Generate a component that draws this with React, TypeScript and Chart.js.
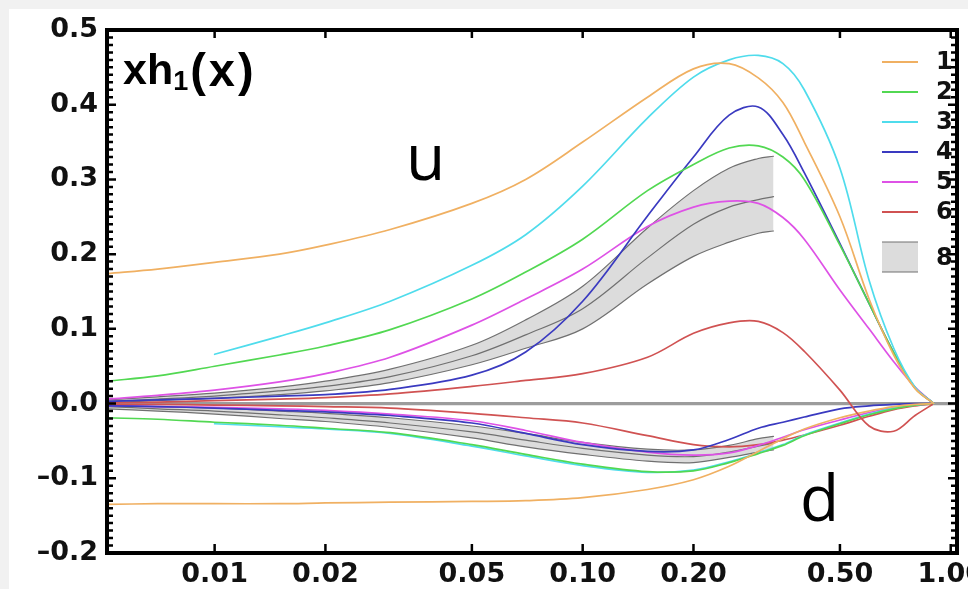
import React, { useEffect, useRef } from "react";
import { Chart, registerables } from "chart.js";
Chart.register(...registerables);

const X_MIN = 0.0051;
const X_MAX = 1.04;

const X_GRID = [0.0051, 0.007, 0.01, 0.015, 0.02, 0.03, 0.05, 0.07, 0.1, 0.15, 0.2, 0.25, 0.3, 0.35, 0.4, 0.5, 0.6, 0.7, 0.8, 0.9];
const X_CYAN = [0.01, 0.015, 0.02, 0.03, 0.05, 0.07, 0.1, 0.15, 0.2, 0.25, 0.3, 0.35, 0.4, 0.5, 0.6, 0.7, 0.8, 0.9];
const X_BAND = [0.0051, 0.007, 0.01, 0.015, 0.02, 0.03, 0.05, 0.07, 0.1, 0.15, 0.2, 0.25, 0.3, 0.33];

// u-quark curves (positive)
const U1 = [0.174, 0.180, 0.189, 0.200, 0.212, 0.233, 0.268, 0.300, 0.350, 0.410, 0.448, 0.455, 0.436, 0.403, 0.350, 0.250, 0.140, 0.065, 0.020, 0];
const U2 = [0.030, 0.037, 0.050, 0.065, 0.077, 0.099, 0.140, 0.176, 0.220, 0.285, 0.320, 0.342, 0.345, 0.330, 0.300, 0.212, 0.134, 0.068, 0.021, 0];
const U3 = [0.066, 0.090, 0.108, 0.137, 0.185, 0.226, 0.291, 0.382, 0.437, 0.460, 0.466, 0.455, 0.420, 0.315, 0.165, 0.074, 0.022, 0];
const U4 = [0.003, 0.005, 0.007, 0.010, 0.012, 0.019, 0.038, 0.069, 0.137, 0.251, 0.330, 0.386, 0.397, 0.360, 0.309, 0.214, 0.134, 0.068, 0.021, 0];
const U5 = [0.006, 0.011, 0.018, 0.029, 0.040, 0.062, 0.105, 0.140, 0.180, 0.237, 0.263, 0.271, 0.268, 0.249, 0.220, 0.152, 0.100, 0.056, 0.022, 0];
const U6 = [0.001, 0.002, 0.004, 0.006, 0.008, 0.013, 0.023, 0.031, 0.040, 0.062, 0.094, 0.108, 0.110, 0.095, 0.070, 0.018, -0.030, -0.037, -0.016, 0];
const U8_UP = [0.005, 0.009, 0.014, 0.022, 0.030, 0.046, 0.078, 0.112, 0.157, 0.235, 0.285, 0.315, 0.328, 0.331];
const U8_MID = [0.003, 0.006, 0.010, 0.017, 0.023, 0.036, 0.064, 0.092, 0.127, 0.195, 0.240, 0.263, 0.273, 0.277];
const U8_LOW = [0.001, 0.004, 0.007, 0.012, 0.017, 0.028, 0.052, 0.074, 0.100, 0.160, 0.197, 0.216, 0.228, 0.231];

// d-quark curves (negative)
const D1 = [-0.135, -0.134, -0.134, -0.134, -0.133, -0.132, -0.131, -0.130, -0.126, -0.115, -0.102, -0.084, -0.064, -0.047, -0.034, -0.019, -0.010, -0.004, -0.001, 0];
const D2 = [-0.019, -0.021, -0.025, -0.029, -0.033, -0.039, -0.055, -0.068, -0.081, -0.091, -0.090, -0.079, -0.067, -0.056, -0.043, -0.027, -0.015, -0.007, -0.002, 0];
const D3 = [-0.027, -0.031, -0.034, -0.040, -0.057, -0.070, -0.083, -0.092, -0.089, -0.078, -0.066, -0.055, -0.042, -0.026, -0.014, -0.006, -0.002, 0];
const D4 = [-0.003, -0.004, -0.006, -0.009, -0.011, -0.016, -0.026, -0.040, -0.055, -0.064, -0.062, -0.048, -0.033, -0.025, -0.018, -0.007, -0.003, -0.001, 0, 0];
const D5 = [-0.003, -0.004, -0.005, -0.007, -0.009, -0.014, -0.023, -0.036, -0.052, -0.065, -0.069, -0.066, -0.056, -0.045, -0.035, -0.022, -0.012, -0.005, -0.001, 0];
const D6 = [-0.001, -0.001, -0.002, -0.003, -0.004, -0.006, -0.013, -0.019, -0.026, -0.043, -0.055, -0.058, -0.055, -0.049, -0.042, -0.029, -0.017, -0.008, -0.003, 0];
const D8_UP = [-0.002, -0.004, -0.006, -0.010, -0.013, -0.019, -0.030, -0.040, -0.052, -0.061, -0.062, -0.056, -0.047, -0.044];
const D8_MID = [-0.004, -0.007, -0.010, -0.015, -0.019, -0.026, -0.038, -0.049, -0.060, -0.069, -0.071, -0.065, -0.057, -0.053];
const D8_LOW = [-0.007, -0.010, -0.014, -0.020, -0.024, -0.032, -0.046, -0.058, -0.068, -0.077, -0.079, -0.072, -0.065, -0.062];

const X_TICKS = [0.01, 0.02, 0.05, 0.1, 0.2, 0.5, 1];
const X_TICK_LABELS = ["0.01", "0.02", "0.05", "0.10", "0.20", "0.50", "1.00"];
const Y_TICKS = [-0.2, -0.1, 0, 0.1, 0.2, 0.3, 0.4, 0.5];
const Y_TICK_LABELS = ["\u20130.2", "\u20130.1", "0.0", "0.1", "0.2", "0.3", "0.4", "0.5"];
const LEGEND_LABELS = ["1", "2", "3", "4", "5", "6", "8"];

const C1 = "#F0B062";
const C2 = "#52D852";
const C3 = "#4FDCEC";
const C4 = "#3A3AC0";
const C5 = "#DE52E6";
const C6 = "#D05252";
const BAND_LINE = "#707070";
const BAND_FILL = "#DCDCDC";
const LEGEND_COLORS = [C1, C2, C3, C4, C5, C6];

const pts = (xs: number[], ys: number[]) => xs.map((x, i) => ({ x, y: ys[i] }));

export default function App() {
  const ref = useRef<HTMLCanvasElement>(null);

  useEffect(() => {
    const canvas = ref.current!;
    const line = (label: string, xs: number[], ys: number[], color: string, width = 1.7, extra: any = {}) => ({
      label,
      data: pts(xs, ys),
      borderColor: color,
      backgroundColor: color,
      borderWidth: width,
      pointRadius: 0,
      fill: false,
      tension: 0.35,
      ...extra,
    });

    const datasets: any[] = [
      line("1u", X_GRID, U1, C1),
      line("3u", X_CYAN, U3, C3),
      line("2u", X_GRID, U2, C2),
      line("4u", X_GRID, U4, C4),
      line("5u", X_GRID, U5, C5),
      line("6u", X_GRID, U6, C6),
      line("1d", X_GRID, D1, C1),
      line("2d", X_GRID, D2, C2),
      line("3d", X_CYAN, D3, C3),
      line("4d", X_GRID, D4, C4),
      line("5d", X_GRID, D5, C5),
      line("6d", X_GRID, D6, C6),
      line("8u mid", X_BAND, U8_MID, BAND_LINE, 1.2),
      line("8u up", X_BAND, U8_UP, BAND_LINE, 1.2),
      line("8u low", X_BAND, U8_LOW, BAND_LINE, 1.2, { fill: "-1", backgroundColor: BAND_FILL }),
      line("8d mid", X_BAND, D8_MID, BAND_LINE, 1.2),
      line("8d up", X_BAND, D8_UP, BAND_LINE, 1.2),
      line("8d low", X_BAND, D8_LOW, BAND_LINE, 1.2, { fill: "-1", backgroundColor: BAND_FILL }),
      line("zero", [X_MIN, X_MAX], [0, 0], "#9C9C9C", 3.2, { tension: 0 }),
    ];

    const decor = {
      id: "decor",
      beforeDraw(chart: any) {
        const ctx = chart.ctx;
        ctx.save();
        ctx.fillStyle = "#F1F1F1";
        ctx.fillRect(0, 0, chart.width, chart.height);
        ctx.fillStyle = "#FFFFFF";
        ctx.fillRect(9, 9, chart.width - 9, chart.height - 9);
        ctx.restore();
      },
      afterDraw(chart: any) {
        const ctx = chart.ctx;
        const { left, right, top, bottom } = chart.chartArea;
        const xs = chart.scales.x;
        const ys = chart.scales.y;
        ctx.save();

        // legend
        const lx0 = 882, lx1 = 918;
        LEGEND_COLORS.forEach((c, i) => {
          const y = 62 + i * 30;
          ctx.strokeStyle = c;
          ctx.lineWidth = 2;
          ctx.beginPath();
          ctx.moveTo(lx0, y);
          ctx.lineTo(lx1, y);
          ctx.stroke();
        });
        ctx.fillStyle = BAND_FILL;
        ctx.fillRect(lx0, 242, lx1 - lx0, 30);
        ctx.strokeStyle = BAND_LINE;
        ctx.lineWidth = 1.2;
        ctx.beginPath();
        ctx.moveTo(lx0, 242); ctx.lineTo(lx1, 242);
        ctx.moveTo(lx0, 272); ctx.lineTo(lx1, 272);
        ctx.stroke();
        ctx.fillStyle = "#111";
        ctx.font = "bold 24px 'DejaVu Sans'";
        ctx.textBaseline = "middle";
        ctx.textAlign = "left";
        LEGEND_LABELS.forEach((t, i) => {
          const y = i < 6 ? 62 + i * 30 : 258;
          ctx.fillText(t, 936, y + 1);
        });

        // title text
        ctx.textBaseline = "alphabetic";
        ctx.fillStyle = "#000";
        ctx.font = "bold 43px 'Liberation Sans'";
        let tx = 123;
        ctx.fillText("xh", tx, 84);
        tx += ctx.measureText("xh").width;
        ctx.font = "bold 27px 'Liberation Sans'";
        ctx.fillText("1", tx, 90);
        tx += ctx.measureText("1").width + 2;
        ctx.font = "bold 47px 'Liberation Sans'";
        (ctx as any).letterSpacing = "3px";
        ctx.fillText("(x)", tx, 86);
        (ctx as any).letterSpacing = "0px";

        ctx.font = "64px 'Open Sans'";
        ctx.fillText("u", 406, 180);
        ctx.fillText("d", 800, 521);

        // frame
        ctx.strokeStyle = "#000";
        ctx.lineWidth = 4;
        ctx.strokeRect(left, top, right - left, bottom - top);

        // ticks
        ctx.lineWidth = 2.5;
        ctx.beginPath();
        for (let k = -20; k <= 50; k++) {
          const v = k / 100;
          const y = ys.getPixelForValue(v);
          const len = k % 10 === 0 ? 9 : 6;
          ctx.moveTo(left, y); ctx.lineTo(left + len, y);
          ctx.moveTo(right, y); ctx.lineTo(right - len, y);
        }
        X_TICKS.forEach((v) => {
          const x = xs.getPixelForValue(v);
          ctx.moveTo(x, bottom); ctx.lineTo(x, bottom - 9);
          ctx.moveTo(x, top); ctx.lineTo(x, top + 8);
        });
        ctx.stroke();
        ctx.restore();
      },
    };

    const tickFont = { family: "'DejaVu Sans'", size: 27, weight: "bold" as const };

    const chart = new Chart(canvas, {
      type: "line",
      data: { datasets },
      options: {
        responsive: false,
        animation: false,
        layout: { padding: { left: 0, top: 30, right: 11, bottom: 0 } },
        plugins: { legend: { display: false }, tooltip: { enabled: false } },
        elements: { line: { borderCapStyle: "round" } },
        scales: {
          x: {
            type: "logarithmic",
            min: X_MIN,
            max: X_MAX,
            grid: { display: false, drawTicks: false },
            border: { display: false },
            afterBuildTicks: (ax: any) => {
              ax.ticks = X_TICKS.map((v) => ({ value: v }));
            },
            afterFit: (ax: any) => {
              ax.height = 36;
              ax.paddingLeft = 0;
              ax.paddingRight = 0;
            },
            ticks: {
              autoSkip: false,
              maxRotation: 0,
              padding: 6,
              color: "#111",
              font: tickFont,
              callback: (_v: any, i: number) => X_TICK_LABELS[i],
            },
          },
          y: {
            type: "linear",
            min: -0.2,
            max: 0.5,
            grid: { display: false, drawTicks: false },
            border: { display: false },
            afterBuildTicks: (ax: any) => {
              ax.ticks = Y_TICKS.map((v) => ({ value: v }));
            },
            afterFit: (ax: any) => {
              ax.width = 107;
              ax.paddingTop = 0;
              ax.paddingBottom = 0;
            },
            ticks: {
              padding: 9,
              color: "#111",
              font: tickFont,
              callback: (_v: any, i: number) => Y_TICK_LABELS[i],
            },
          },
        },
      } as any,
      plugins: [decor],
    });
    return () => chart.destroy();
  }, []);

  return (
    <div style={{ position: "fixed", left: 0, top: 0, width: 968, height: 589, background: "#fff" }}>
      <canvas ref={ref} width={968} height={589} style={{ display: "block" }} />
    </div>
  );
}
